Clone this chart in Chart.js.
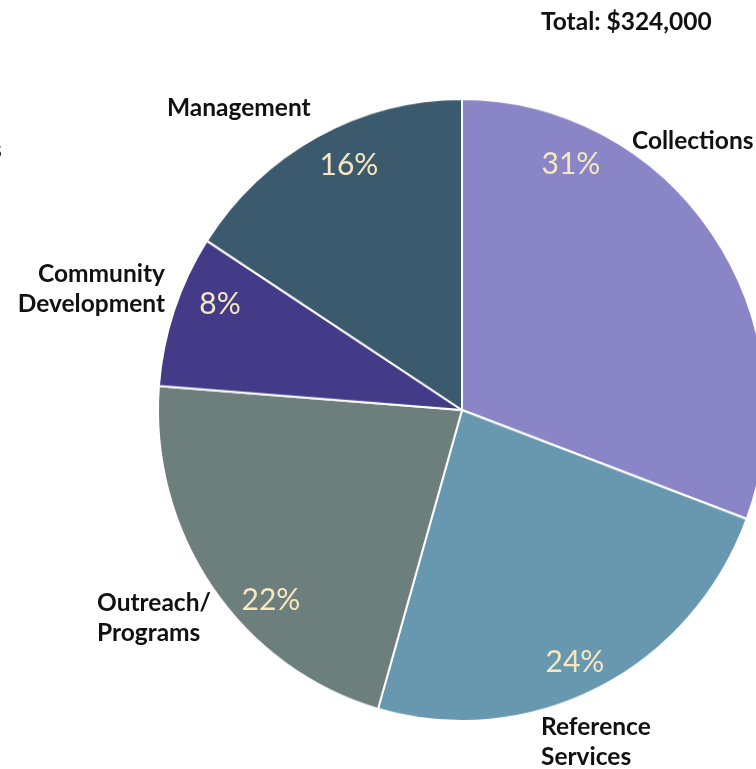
<!DOCTYPE html>
<html>
<head>
<meta charset="utf-8">
<script src="https://cdn.jsdelivr.net/npm/chart.js@4.4.1/dist/chart.umd.min.js"></script>
<style>
	html, body { margin: 0; padding: 0; background: #fff; overflow: hidden; width: 756px; height: 769px; }
	#wrap { position: absolute; left: 0; top: 0; width: 924px; height: 820px; transform-origin: 462px 410px; transform: scale(1, 1.023); }
	.lbl { position: absolute; font-family: Lato, sans-serif; font-weight: 700; font-size: 24.5px; color: #111; line-height: 30px; white-space: nowrap; }
	.pct { position: absolute; font-family: Lato, sans-serif; font-weight: 400; font-size: 30px; color: #f6e7be; white-space: nowrap; transform: translate(-50%, -50%); }
</style>
</head>
<body>
<div id="wrap"><canvas id="budgetChart" width="924" height="820"></canvas></div>
<div id="labels"></div>
<script>
	// Data
	const categories = ['Collections', 'Reference Services', 'Outreach/ Programs', 'Community Development', 'Management'];
	const shares = [31, 24, 22, 8, 16];
	const sliceColors = ['#8a85c7', '#6898b0', '#6d7f7c', '#433b87', '#3c5a6e'];
	const totalLabel = 'Total: $324,000';

	// label layout (text only, not data)
	const nameLines = [['Collections'], ['Reference', 'Services'], ['Outreach/', 'Programs'], ['Community', 'Development'], ['Management']];
	const nameBoxes = [
		{ left: 632, top: 125, align: 'left' },
		{ left: 541, top: 711, align: 'left' },
		{ left: 97, top: 587, align: 'left' },
		{ right: 591, top: 258, align: 'right' },
		{ left: 167, top: 92, align: 'left' }
	];
	const pctSpots = [[571, 162], [575, 660], [271, 598], [220, 302], [349, 163]];

	const ctx = document.getElementById('budgetChart').getContext('2d');
	const budgetChart = new Chart(ctx, {
		type: 'pie',
		data: {
			labels: categories,
			datasets: [{
				data: shares,
				backgroundColor: sliceColors,
				borderColor: '#ffffff',
				borderWidth: 2,
				radius: 304
			}]
		},
		options: {
			responsive: false,
			animation: false,
			plugins: {
				legend: { display: false },
				tooltip: { enabled: false }
			}
		}
	});

	let html = '';
	categories.forEach(function (cat, i) {
		const b = nameBoxes[i];
		let pos = 'top:' + b.top + 'px;text-align:' + b.align + ';';
		pos += b.align === 'right' ? 'right:' + b.right + 'px;' : 'left:' + b.left + 'px;';
		html += `<div class="lbl" style="${pos}">${nameLines[i].join('<br>')}</div>`;
		html += `<div class="pct" style="left:${pctSpots[i][0]}px;top:${pctSpots[i][1]}px">${shares[i]}%</div>`;
	});
	html += `<div class="lbl" style="left:541px;top:6px">${totalLabel}</div>`;
	html += `<div class="lbl" style="left:-9px;top:134px">s</div>`;
	document.getElementById('labels').innerHTML = html;
</script>
</body>
</html>
